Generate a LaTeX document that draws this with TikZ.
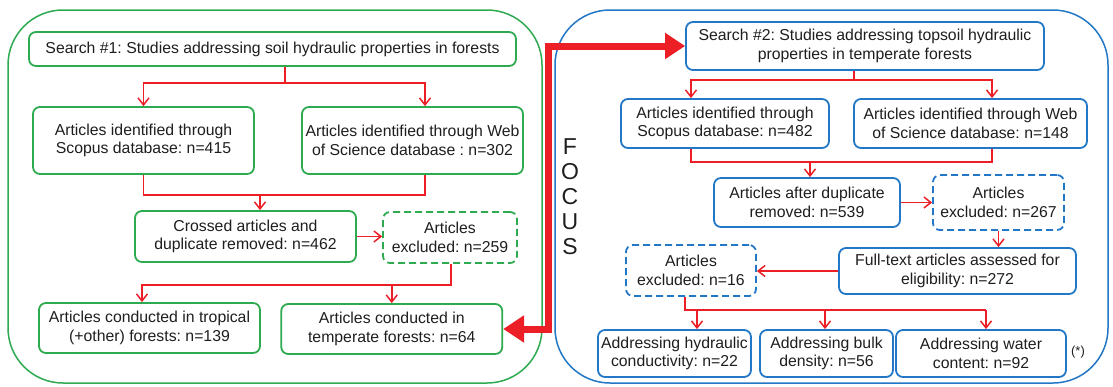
\documentclass[tikz,border=0pt]{standalone}
\usepackage{fontspec}
\setmainfont{Liberation Sans}
\usetikzlibrary{arrows.meta}
\definecolor{gline}{RGB}{46,170,80}
\definecolor{bline}{RGB}{34,119,198}
\definecolor{rline}{RGB}{236,30,38}
\definecolor{txt}{RGB}{30,30,30}
\newcommand\boxfont{\fontsize{15.8pt}{18.5pt}\selectfont}
\frenchspacing
\tikzset{
  box/.style={draw, rounded corners=7pt, line width=1.8pt, align=center, inner sep=0pt, text=txt, font=\boxfont},
  gbox/.style={box, draw=gline},
  bbox/.style={box, draw=bline},
  dashbox/.style={dash pattern=on 7pt off 4pt},
  outerg/.style={draw=gline, line width=1.5pt, rounded corners=55pt, inner sep=0pt},
  outerb/.style={draw=bline, line width=1.5pt, rounded corners=55pt, inner sep=0pt},
  rl/.style={draw=rline, line width=1.5pt},
  ra/.style={rl, -{Straight Barb[length=7pt,width=11pt]}},
  bigarrow/.style={draw=rline, line width=7pt, {Triangle[length=21pt,width=26pt]}-{Triangle[length=20pt,width=25pt]}}
}
\begin{document}
\begin{tikzpicture}[x=1pt,y=-1pt]
\useasboundingbox (0,0) rectangle (1113,386);
% outer panels
\node[outerg, minimum width=534pt, minimum height=373pt] (pg) at (275,196.5) {};
\node[outerb, minimum width=553pt, minimum height=373pt] (pb) at (831.5,196.5) {};
% left boxes
\node[gbox, minimum width=487pt, minimum height=34pt] (s1) at (272.5,49) {Search \#1: Studies addressing soil hydraulic properties in forests};
\node[gbox, minimum width=221pt, minimum height=67pt] (sc1) at (143.5,140.5) {Articles identified through\\Scopus database: n=415};
\node[gbox, minimum width=221pt, minimum height=67pt] (ws1) at (412.5,140.5) {Articles identified through Web\\of Science database : n=302};
\node[gbox, minimum width=221pt, minimum height=51pt] (cr1) at (245.5,236.5) {Crossed articles and\\duplicate removed: n=462};
\node[gbox, dashbox, minimum width=134pt, minimum height=51pt] (ex1) at (450,237.5) {Articles\\excluded: n=259};
\node[gbox, minimum width=221pt, minimum height=50pt] (tr1) at (149.5,328) {Articles conducted in tropical\\(+other) forests: n=139};
\node[gbox, minimum width=221pt, minimum height=50pt] (te1) at (391.75,329) {Articles conducted in\\temperate forests: n=64};
% right boxes
\node[bbox, minimum width=358pt, minimum height=48pt] (s2) at (865,46) {Search \#2: Studies addressing topsoil hydraulic\\properties in temperate forests};
\node[bbox, minimum width=208pt, minimum height=49pt] (sc2) at (725,123.5) {Articles identified through\\Scopus database: n=482};
\node[bbox, minimum width=233pt, minimum height=49pt] (ws2) at (970.5,123.5) {Articles identified through Web\\of Science database: n=148};
\node[bbox, minimum width=186pt, minimum height=49pt] (dup) at (807,202.5) {Articles after duplicate\\removed: n=539};
\node[bbox, dashbox, minimum width=131pt, minimum height=55pt] (ex2) at (998.5,202.5) {Articles\\excluded: n=267};
\node[bbox, minimum width=237pt, minimum height=46pt] (ft) at (957.5,271) {Full-text articles assessed for\\eligibility: n=272};
\node[bbox, dashbox, minimum width=130pt, minimum height=51pt] (ex3) at (691,270.5) {Articles\\excluded: n=16};
\node[bbox, minimum width=153pt, minimum height=47pt] (hy) at (674.5,353.5) {Addressing hydraulic\\conductivity: n=22};
\node[bbox, minimum width=133pt, minimum height=47pt] (bu) at (826.5,353.5) {Addressing bulk\\density: n=56};
\node[bbox, minimum width=170pt, minimum height=47pt] (wa) at (981,353.5) {Addressing water\\content: n=92};
\node[text=txt, font=\fontsize{13pt}{15pt}\selectfont, inner sep=0pt] (star) at (1078,352) {(*)};
\node[text=txt, font=\fontsize{23pt}{25pt}\selectfont, align=center, inner sep=0pt] (focus) at (570,197) {F\\O\\C\\U\\S};
% left connectors
\coordinate (j1) at (285,83);
\coordinate (k1) at (425,83);
\draw[rl] (s1.south -| j1) -- (j1);
\draw[ra] (j1) -| (sc1.north);
\draw[ra] (j1) -- (k1) -- (ws1.north -| k1);
\coordinate (m1) at (260,195);
\coordinate (m1r) at (425,195);
\draw[rl] (sc1.south) |- (m1r) -- (ws1.south -| m1r);
\draw[ra] (m1) -- (cr1.north -| m1);
\draw[ra] (cr1.east) -- (ex1.west |- cr1.east);
\coordinate (n1) at (451,285);
\coordinate (n1l) at (142,285);
\draw[ra] (ex1.south -| n1) -- (n1) -- (n1l) -- (tr1.north -| n1l);
\draw[ra] (n1 -| te1.north) -- (te1.north);
% right connectors
\coordinate (j2) at (854,80);
\coordinate (j2l) at (691,80);
\coordinate (j2r) at (992,80);
\draw[rl] (s2.south -| j2) -- (j2);
\draw[ra] (j2) -- (j2l) -- (sc2.north -| j2l);
\draw[ra] (j2) -- (j2r) -- (ws2.north -| j2r);
\coordinate (m2l) at (691,162);
\coordinate (m2r) at (992,162);
\coordinate (m2) at (810,162);
\draw[rl] (sc2.south -| m2l) -- (m2l) -- (m2r) -- (ws2.south -| m2r);
\draw[ra] (m2) -- (dup.north -| m2);
\draw[ra] (dup.east) -- (ex2.west |- dup.east);
\draw[ra] (ex2.south) -- (ft.north -| ex2.south);
\draw[ra] (ft.west) -- (ex3.east |- ft.west);
\coordinate (n2) at (685,310);
\coordinate (h2) at (697,310);
\coordinate (b2) at (825,310);
\coordinate (n2r) at (986,310);
\draw[rl] (ex3.south -| n2) -- (n2) -- (n2r);
\draw[ra] (h2) -- (hy.north -| h2);
\draw[ra] (b2) -- (bu.north -| b2);
\draw[ra] (n2r) -- (wa.north -| n2r);
% focus arrow
\coordinate (fx) at (548,0);
\draw[bigarrow] (te1.east) -- (te1.east -| fx) -- (fx |- s2.west) -- (s2.west);
\end{tikzpicture}
\end{document}
